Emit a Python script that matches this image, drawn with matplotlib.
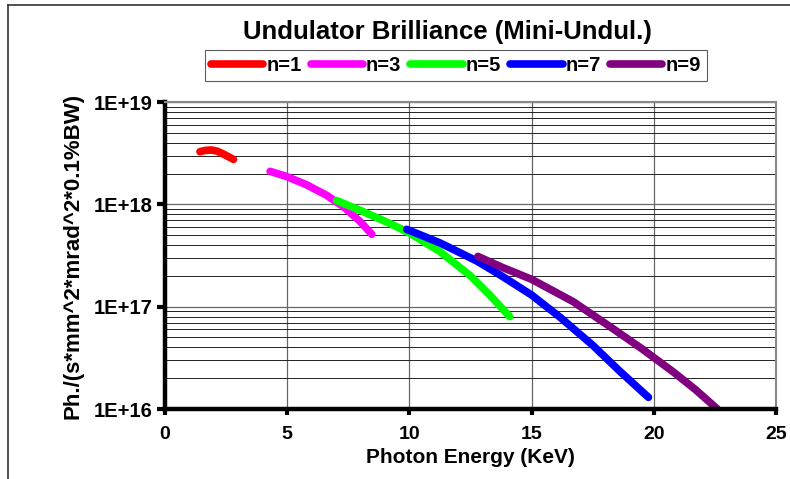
import numpy as np
import matplotlib.pyplot as plt
from matplotlib.lines import Line2D
from matplotlib.ticker import LogLocator, FixedLocator

plt.rcParams['font.family'] = ['Liberation Sans', 'DejaVu Sans']
plt.rcParams['font.weight'] = 'bold'

# harmonic curves (energy in keV, brilliance)
n1_e = [1.43, 1.65, 1.9, 2.15, 2.45, 2.8]
n1_b = [3.27e18, 3.37e18, 3.4e18, 3.3e18, 3.05e18, 2.75e18]

n3_e = [4.3, 4.98, 5.8, 6.6, 7.3, 7.98, 8.46]
n3_b = [2.1e18, 1.87e18, 1.55e18, 1.23e18, 9.5e17, 6.8e17, 5.1e17]

n5_e = [7.02, 8.1, 9.2, 10.0, 11.25, 12.5, 13.3, 14.1]
n5_b = [1.09e18, 8.5e17, 6.5e17, 5.25e17, 3.45e17, 2.0e17, 1.29e17, 8.0e16]

n7_e = [9.89, 11.25, 12.75, 13.7, 15.0, 16.16, 17.5, 18.6, 19.78]
n7_b = [5.7e17, 4.2e17, 2.8e17, 2.05e17, 1.3e17, 7.9e16, 4.2e16, 2.35e16, 1.3e16]

n9_e = [12.8, 13.84, 15.0, 16.7, 18.2, 19.5, 20.8, 21.7, 22.6]
n9_b = [3.1e17, 2.4e17, 1.85e17, 1.12e17, 6.4e16, 3.9e16, 2.3e16, 1.55e16, 1.0e16]

series = [
    ('n=1', n1_e, n1_b, '#ff0000'),
    ('n=3', n3_e, n3_b, '#ff00ff'),
    ('n=5', n5_e, n5_b, '#00ff00'),
    ('n=7', n7_e, n7_b, '#0000ff'),
    ('n=9', n9_e, n9_b, '#800080'),
]

fig = plt.figure(figsize=(7.9, 4.79), dpi=100)
ax = fig.add_axes([0.2089, 0.1461, 0.7734, 0.6409])

for label, e, b, c in series:
    ax.plot(e, b, color=c, lw=5.5, solid_capstyle='round', solid_joinstyle='round', label=label)

ax.set_yscale('log')
ax.set_xlim(0, 25)
ax.set_ylim(1e16, 1e19)
ax.xaxis.set_major_locator(FixedLocator([0, 5, 10, 15, 20, 25]))
ax.yaxis.set_minor_locator(LogLocator(base=10, subs=np.arange(2, 10), numticks=10))
ax.set_yticks([1e16, 1e17, 1e18, 1e19])
ax.set_yticklabels(['1E+16', '1E+17', '1E+18', '1E+19'])
ax.tick_params(axis='y', which='minor', length=0)
ax.tick_params(axis='y', which='major', direction='out', length=6, width=3,
               labelsize=14.5, pad=3)
ax.tick_params(axis='x', which='major', direction='out', length=4, width=3,
               labelsize=14, pad=8)

ax.grid(True, which='major', axis='both', color='#666666', lw=0.9)
ax.grid(True, which='minor', axis='y', color='#222222', lw=0.7)

for s in ['left', 'bottom']:
    ax.spines[s].set_linewidth(3.2)
for s in ['top', 'right']:
    ax.spines[s].set_color('#888888')
    ax.spines[s].set_linewidth(1.5)

for lab in ax.get_xticklabels() + ax.get_yticklabels():
    lab.set_fontweight('bold')

ax.set_xlabel('Photon Energy (KeV)', fontsize=15, fontweight='bold', labelpad=4)
ax.set_ylabel('Ph./(s*mm^2*mrad^2*0.1%BW)', fontsize=16, fontweight='bold', labelpad=7)

fig.text(0.566, 0.934, 'Undulator Brilliance (Mini-Undul.)', ha='center', va='center',
         fontsize=18.5, fontweight='bold')

leg = fig.legend(loc='center', bbox_to_anchor=(0.577, 0.863), ncol=5, frameon=True,
                 fancybox=False, edgecolor='#333333', fontsize=14.5, handlelength=2.6,
                 handletextpad=0.15, columnspacing=0.45, borderpad=0.3)
leg.get_frame().set_linewidth(0.8)
for t in leg.get_texts():
    t.set_fontweight('bold')

# outer chart border (left and top edges)
fig.add_artist(Line2D([8 / 790, 8 / 790], [0, 1 - 5 / 479], color='#333333', lw=1.2))
fig.add_artist(Line2D([8 / 790, 1], [1 - 5 / 479, 1 - 5 / 479], color='#333333', lw=1.2))

fig.savefig('out.png', dpi=100)
